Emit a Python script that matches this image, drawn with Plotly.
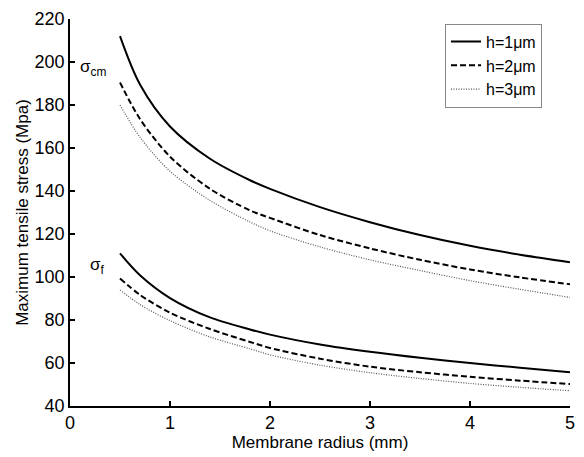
import plotly.graph_objects as go

radius = [0.5, 0.7, 1.0, 1.4, 1.8, 2.0, 2.5, 3.0, 3.5, 4.0, 4.5, 5.0]

# sigma_cm (upper group)
cm_h1 = [212, 189.5, 170, 155, 145, 141, 132.5, 125.5, 119.5, 114.5, 110.4, 106.9]
cm_h2 = [190.5, 173.5, 156, 141, 131, 127.5, 119.5, 113.3, 108, 103.5, 99.8, 96.6]
cm_h3 = [180, 165, 149.2, 135.6, 125.6, 121.5, 114, 108, 103, 98.3, 94.3, 90.5]

# sigma_f (lower group)
f_h1 = [111, 100.8, 90.2, 81.2, 75.6, 73.2, 68.6, 65.2, 62.4, 60, 57.8, 55.7]
f_h2 = [99.3, 91.7, 83.4, 75.8, 69.8, 67, 62, 58.3, 55.7, 53.6, 51.8, 50.2]
f_h3 = [94, 87.2, 79.7, 72.1, 66.6, 63.8, 59, 55.5, 52.8, 50.5, 48.7, 47.1]

labels = ["h=1\u03bcm", "h=2\u03bcm", "h=3\u03bcm"]
styles = [
    dict(color="black", width=2, dash="solid"),
    dict(color="black", width=2, dash="6px,3px"),
    dict(color="#555555", width=1.2, dash="1px,1.5px"),
]

FONT = "Liberation Sans, Arial, sans-serif"

fig = go.Figure()
for lab, st, ycm, yf in zip(labels, styles, [cm_h1, cm_h2, cm_h3], [f_h1, f_h2, f_h3]):
    fig.add_trace(go.Scatter(x=radius, y=ycm, mode="lines", name=lab,
                             line=dict(shape="spline", smoothing=0.9, **st), legendgroup=lab))
    fig.add_trace(go.Scatter(x=radius, y=yf, mode="lines", name=lab, showlegend=False,
                             line=dict(shape="spline", smoothing=0.9, **st), legendgroup=lab))

fig.add_annotation(x=0.08, y=197, xref="x", yref="y", text="\u03c3<sub>cm</sub>",
                   showarrow=False, xanchor="left", yanchor="middle",
                   font=dict(family=FONT, size=17, color="black"))
fig.add_annotation(x=0.18, y=105, xref="x", yref="y", text="\u03c3<sub>f</sub>",
                   showarrow=False, xanchor="left", yanchor="middle",
                   font=dict(family=FONT, size=17, color="black"))

axis_common = dict(showline=True, linecolor="black", linewidth=1.5, ticks="inside",
                   ticklen=5, tickwidth=1.5, tickcolor="black", showgrid=False,
                   zeroline=False, mirror=False, ticklabeloverflow="allow",
                   tickfont=dict(family=FONT, size=18, color="black"))

fig.update_layout(
    width=584, height=457,
    margin=dict(l=70, r=9, t=10, b=51),
    paper_bgcolor="white", plot_bgcolor="white",
    font=dict(family=FONT, size=17, color="black"),
    xaxis=dict(range=[0, 5], tickvals=[0, 1, 2, 3, 4, 5],
               title=dict(text="Membrane radius (mm)", font=dict(family=FONT, size=17), standoff=0),
               **axis_common),
    yaxis=dict(range=[40, 220], tickvals=list(range(40, 221, 20)),
               title=dict(text="Maximum tensile stress (Mpa)", font=dict(family=FONT, size=17), standoff=2),
               **axis_common),
    legend=dict(x=0.75, y=0.988, xanchor="left", yanchor="top",
                bordercolor="#888888", borderwidth=1, bgcolor="white",
                font=dict(family=FONT, size=16, color="black"),
                tracegroupgap=0, itemwidth=30),
)

fig.write_html("out.html")
